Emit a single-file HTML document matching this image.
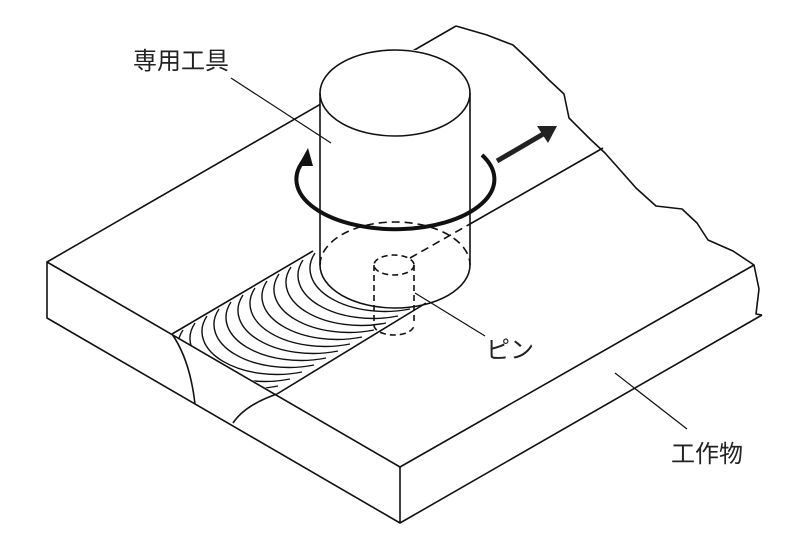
<!DOCTYPE html>
<html><head><meta charset="utf-8"><style>
html,body{margin:0;padding:0;background:#fff;}
svg{display:block;}
text{font-family:"Liberation Sans","Noto Sans CJK JP",sans-serif;font-size:24px;fill:#222;}
</style></head><body>
<svg width="800" height="544" viewBox="0 0 800 544" xmlns="http://www.w3.org/2000/svg">
<defs>
<clipPath id="band"><polygon points="313,251 172,334 277,394 426,303 470,280 470,230"/></clipPath>
</defs>
<g fill="none" stroke="#111" stroke-width="1.6" stroke-linejoin="round">
<polyline points="754,265 400,467 47,262 456,26"/>
<polyline points="456,26 487,35 513,45 528,59 549,80 564,94 569,118 590,139 605,153 621,171 636,188 656,206 682,209 697,223 708,240 733,251 754,265 759,289 756,314 762,315"/>
<polyline points="47,262 47,318 400,523 762,315"/>
<line x1="400" y1="467" x2="400" y2="523"/>
<line x1="603" y1="148" x2="470" y2="224"/>
<line x1="313" y1="251" x2="172" y2="334"/>
<line x1="426" y1="303" x2="277" y2="394"/>
<path d="M172,334 Q190,360 195,404"/>
<path d="M277,394 Q245,405 233,423"/>
<g clip-path="url(#band)" stroke-width="1.4">
<path d="M315,253 A75 43 0 0 0 410,309"/>
<path d="M303,260 A75 43 0 0 0 398,316"/>
<path d="M291,267 A75 43 0 0 0 386,323"/>
<path d="M279,274 A75 43 0 0 0 374,330"/>
<path d="M267,281 A75 43 0 0 0 362,337"/>
<path d="M255,288 A75 43 0 0 0 350,344"/>
<path d="M243,295 A75 43 0 0 0 338,351"/>
<path d="M231,302 A75 43 0 0 0 326,358"/>
<path d="M219,309 A75 43 0 0 0 314,365"/>
<path d="M207,316 A75 43 0 0 0 302,372"/>
<path d="M195,323 A75 43 0 0 0 290,379"/>
<path d="M183,330 A75 43 0 0 0 278,386"/>
</g>
<rect x="320" y="50" width="150" height="215" fill="#fff" stroke="none"/>
<ellipse cx="395" cy="93" rx="75" ry="43" fill="#fff"/>
<line x1="320" y1="93" x2="320" y2="265"/>
<line x1="470" y1="93" x2="470" y2="265"/>
<path d="M320,265 A75 43 0 0 0 470,265"/>
<path d="M320,265 A75 43 0 0 1 470,265" stroke-dasharray="8,5"/>
<line x1="410" y1="258" x2="470" y2="224" stroke-dasharray="8,5"/>
<g stroke-dasharray="6,4">
<ellipse cx="394" cy="265" rx="20" ry="10"/>
<line x1="374" y1="265" x2="374" y2="325"/>
<line x1="414" y1="265" x2="414" y2="325"/>
<path d="M374,325 A20 10 0 0 0 414,325"/>
</g>
<path d="M304,160 A99 50 0 1 0 482,155" stroke-width="4"/>
<line x1="231" y1="78" x2="331" y2="143" stroke-width="1.2"/>
<line x1="415" y1="293" x2="485" y2="336" stroke-width="1.2"/>
<line x1="615" y1="373" x2="687" y2="429" stroke-width="1.2"/>
</g>
<polygon points="308,148 298,166 313,166" fill="#111"/>
<line x1="497" y1="161" x2="545" y2="133" stroke="#222" stroke-width="5"/>
<polygon points="557,126 537,126 548,143" fill="#222"/>
<text x="133" y="69">専用工具</text>
<text x="486" y="358">ピン</text>
<text x="671" y="462">工作物</text>
</svg>
</body></html>
